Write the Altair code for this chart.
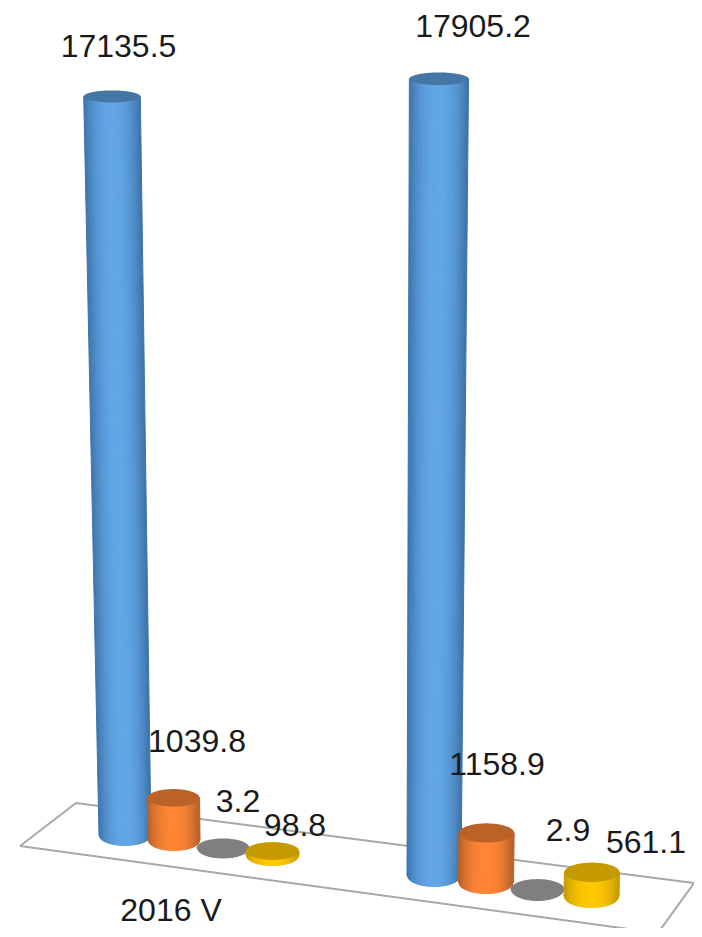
import math
import altair as alt
import pandas as pd

# ---- chart values -------------------------------------------------------
categories = ["2016 V", ""]
series = ["A", "B", "C", "D"]
values_first = [17135.5, 1039.8, 3.2, 98.8]
values_second = [17905.2, 1158.9, 2.9, 561.1]

# ---- styles -------------------------------------------------------------
mid_colours = [(98, 166, 230), (255, 133, 52), (127, 127, 127), (255, 200, 0)]
edge_colours = [(60, 114, 168), (178, 96, 40), (127, 127, 127), (196, 152, 0)]
top_colours = ["#4577a6", "#ba6227", "#7f7f7f", "#c49a00"]
floor_colour = "#a8a8a8"
text_colour = "#1a1a1a"
FONT = "Liberation Sans"
FONT_SIZE = 32

# ---- 3-D layout: where the floor and the cylinder feet lie on the canvas --
W, H = 686, 920
floor_path_x = [20, 76, 694, 658, 20]
floor_path_y = [846, 803, 883, 933, 846]
foot_x = [[125, 174, 223, 272.5], [434, 486, 537.5, 591.5]]
foot_y = [[835, 840, 847.5, 855], [875, 882, 889, 896]]
foot_a = [[26, 26, 26, 26.5], [27, 27.5, 26.5, 27.5]]
foot_b = [10.5, 11.5]
depth_k = [0.0404, 0.0422]      # px per unit at the floor
depth_c = [3.9e-6, 3.0e-6]      # perspective growth with value
VANISH_X, LEAN = 353, 7.7e-5
WIDEN = 1.2e-4
N_STRIPS = 36

label_text = [["17135.5", "1039.8", "3.2", "98.8"], ["17905.2", "1158.9", "2.9", "561.1"]]
label_x = [[118.5, 197, 238, 295], [473, 497, 568, 646]]
label_y = [[57, 752, 812, 836], [37, 775, 841, 853]]
category_x, category_y = 171, 921


def shade(series_index, t):
    s = abs(t) ** 2.2
    mid, edge = mid_colours[series_index], edge_colours[series_index]
    return "#%02x%02x%02x" % tuple(round(m * (1 - s) + e * s) for m, e in zip(mid, edge))


def cylinder_frames(cat, ser, value):
    h = value * depth_k[cat] * (1 + depth_c[cat] * value)
    bx, by, ba, bb = foot_x[cat][ser], foot_y[cat][ser], foot_a[cat][ser], foot_b[cat]
    tx = bx + (bx - VANISH_X) * LEAN * h
    ty = by - h
    ta = ba * (1 + WIDEN * h)
    tb = bb * (0.85 - 0.3 * h / 800)
    body, foot, top = [], [], []
    for i in range(N_STRIPS):
        t0 = -1 + 2 * i / N_STRIPS
        t1 = -1 + 2 * (i + 1) / N_STRIPS
        col = shade(ser, (t0 + t1) / 2)
        sid = f"{cat}-{ser}-{i}"
        body.append(dict(s=sid, c=col, y=ty, x=tx + ta * t0, x2=tx + ta * t1))
        body.append(dict(s=sid, c=col, y=by, x=bx + ba * t0, x2=bx + ba * t1))
        for t in (t0, t1):
            foot.append(dict(s=sid, c=col, x=bx + ba * t, y=by - 1,
                             y2=by + bb * math.sqrt(max(0, 1 - t * t))))
    for j in range(81):
        t = -math.cos(math.pi * j / 80)
        r = tb * math.sqrt(max(0, 1 - t * t))
        top.append(dict(g=f"{cat}-{ser}", x=tx + ta * t, y=ty - r, y2=ty + r))
    return body, foot, top


x_scale = alt.Scale(domain=[8, 8 + W], nice=False, zero=False)
y_scale = alt.Scale(domain=[8 + H, 8], nice=False, zero=False)
X = alt.X("x:Q", scale=x_scale, axis=None)
Y = alt.Y("y:Q", scale=y_scale, axis=None)

floor = (
    alt.Chart(pd.DataFrame({"x": floor_path_x, "y": floor_path_y, "o": range(len(floor_path_x))}))
    .mark_line(color=floor_colour, strokeWidth=2, strokeJoin="miter")
    .encode(x=X, y=Y, order="o:Q")
)

layers = [floor]
for ser in range(len(series)):
    bodies, feet, tops = [], [], []
    for cat, vals in enumerate([values_first, values_second]):
        b, f, t = cylinder_frames(cat, ser, vals[ser])
        bodies += b
        feet += f
        tops += t
    colour = alt.Color("c:N", scale=None, legend=None)
    stroke = alt.Stroke("c:N", scale=None, legend=None)
    layers.append(
        alt.Chart(pd.DataFrame(feet)).mark_area(orient="vertical", strokeWidth=1).encode(
            x=X, y=Y, y2="y2:Q", color=colour, stroke=stroke, detail="s:N")
    )
    layers.append(
        alt.Chart(pd.DataFrame(bodies)).mark_area(orient="horizontal", strokeWidth=1).encode(
            x=X, x2="x2:Q", y=Y, color=colour, stroke=stroke, detail="s:N")
    )
    layers.append(
        alt.Chart(pd.DataFrame(tops)).mark_area(orient="vertical", color=top_colours[ser]).encode(
            x=X, y=Y, y2="y2:Q", detail="g:N")
    )

labels = pd.DataFrame({
    "x": label_x[0] + label_x[1] + [category_x],
    "y": label_y[0] + label_y[1] + [category_y],
    "t": label_text[0] + label_text[1] + [categories[0]],
})
text = (
    alt.Chart(labels)
    .mark_text(font=FONT, fontSize=FONT_SIZE, color=text_colour, align="center", baseline="alphabetic")
    .encode(x=X, y=Y, text="t:N")
)
layers.append(text)

chart = (
    alt.layer(*layers)
    .properties(width=W, height=H, padding=0, background="white",
                autosize=alt.AutoSizeParams(type="none"))
    .configure_view(stroke=None)
)
chart.save("out.html", embed_options={"renderer": "svg", "actions": False})
